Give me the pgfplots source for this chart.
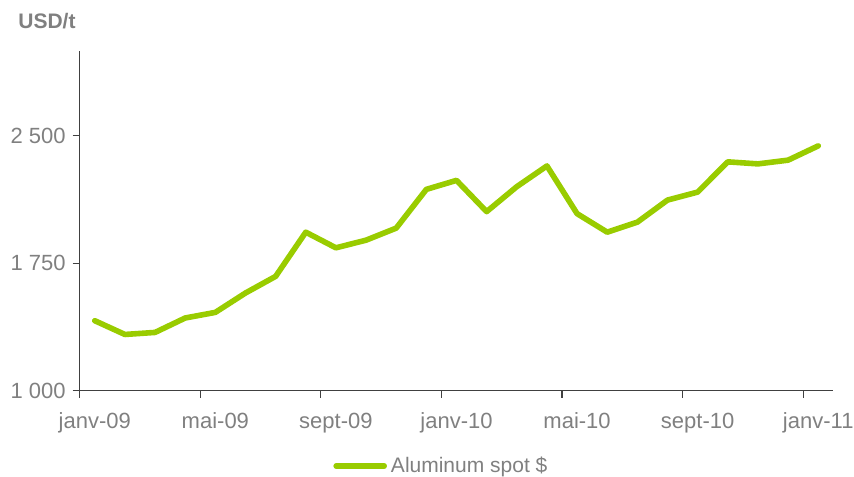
\documentclass[border=0pt]{standalone}
\usepackage{pgfplots}
\pgfplotsset{compat=1.18}
\usepackage{fontspec}
\setmainfont{Liberation Sans}
\definecolor{alu}{HTML}{99CC00}
\definecolor{txt}{HTML}{808080}
\definecolor{axl}{HTML}{404040}

\begin{document}
\begin{tikzpicture}
\begin{axis}[
  at={(0,0)}, anchor=south west,
  scale only axis, width=376.8pt, height=169.9pt,
  xmin=0, xmax=25, ymin=1000, ymax=3000,
  axis x line*=bottom, axis y line*=left,
  axis line style={axl, line width=0.6pt},
  % ticks at month borders, labels centred on the month
  xtick={0,4,...,24},
  xticklabels={janv-09,mai-09,sept-09,janv-10,mai-10,sept-10,janv-11},
  xticklabel style={xshift=7.54pt, yshift=-4pt},
  ytick={1000,1750,2500},
  tick align=outside, major tick length=3.5pt,
  tick style={axl, line width=0.6pt},
  ticklabel style={font=\fontsize{11}{13}\selectfont, text=txt},
  /pgf/number format/assume math mode=true,
  /pgf/number format/1000 sep={\ },
  legend style={draw=none, fill=none, inner sep=0pt,
    at={(0.3361,-0.2216)}, anchor=west,
    font=\fontsize{10.5}{12}\selectfont, text=txt},
  legend image code/.code={\draw[#1] (0pt,0pt) -- (24pt,0pt);},
]
\addplot[alu, line width=2.8pt, line join=round, line cap=round] table {
x y
0.5 1412
1.5 1331
2.5 1343
3.5 1428
4.5 1461
5.5 1575
6.5 1673
7.5 1933
8.5 1841
9.5 1886
10.5 1957
11.5 2185
12.5 2238
13.5 2054
14.5 2201
15.5 2323
16.5 2042
17.5 1933
18.5 1992
19.5 2122
20.5 2169
21.5 2347
22.5 2335
23.5 2357
24.5 2441
};
\addlegendentry{Aluminum spot \$}
\end{axis}
\node[anchor=base west, inner sep=0pt, font=\bfseries\fontsize{10.5}{12}\selectfont, text=txt]
  at (-30.85pt,180.85pt) {USD/t};
\pgfresetboundingbox
\useasboundingbox (-39.85pt,-42.65pt) rectangle (387.15pt,195.35pt);
\end{tikzpicture}
\end{document}
